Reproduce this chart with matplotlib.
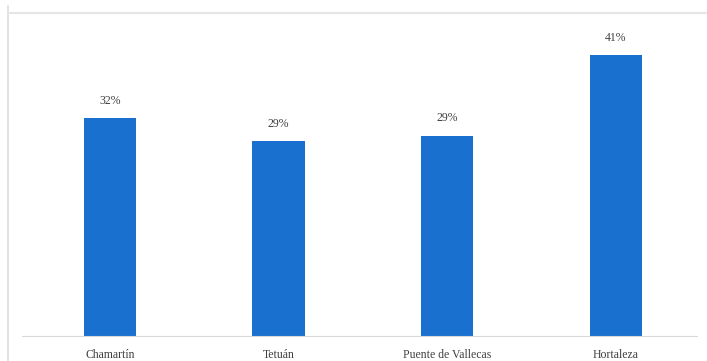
import matplotlib.pyplot as plt
from matplotlib.lines import Line2D

barrios = ['Chamartín', 'Tetuán', 'Puente de Vallecas', 'Hortaleza']
valores = [0.32, 0.286, 0.294, 0.413]

plt.rcParams['font.family'] = ['Liberation Serif', 'DejaVu Serif']

W, H = 707, 361
fig = plt.figure(figsize=(W / 100, H / 100), dpi=100)

# chart frame (as in the screenshot)
fig.add_artist(Line2D([8 / W, 8 / W], [0, 1 - 6 / H], color='#dddddd', lw=1.2))
fig.add_artist(Line2D([8 / W, 1], [1 - 13 / H, 1 - 13 / H], color='#e6e6e6', lw=1.5))

ax = fig.add_axes([22 / W, 25 / H, (697 - 22) / W, (336 - 15) / H])
x = range(len(barrios))
bars = ax.bar(x, valores, width=0.31, color='#1a70cf')

for b, v in zip(bars, valores):
    ax.text(b.get_x() + b.get_width() / 2, v + 0.017, f'{v:.0%}',
            ha='center', va='bottom', fontsize=8.5, color='#404040')

ax.set_xlim(-0.52, 3.48)
ax.set_ylim(0, 0.472)
ax.set_xticks(list(x))
ax.set_xticklabels(barrios, fontsize=8.5, color='#404040')
ax.tick_params(axis='x', length=0, pad=9)
ax.set_yticks([])
for s in ['top', 'right', 'left']:
    ax.spines[s].set_visible(False)
ax.spines['bottom'].set_color('#d9d9d9')

fig.savefig('out.png', dpi=100)
